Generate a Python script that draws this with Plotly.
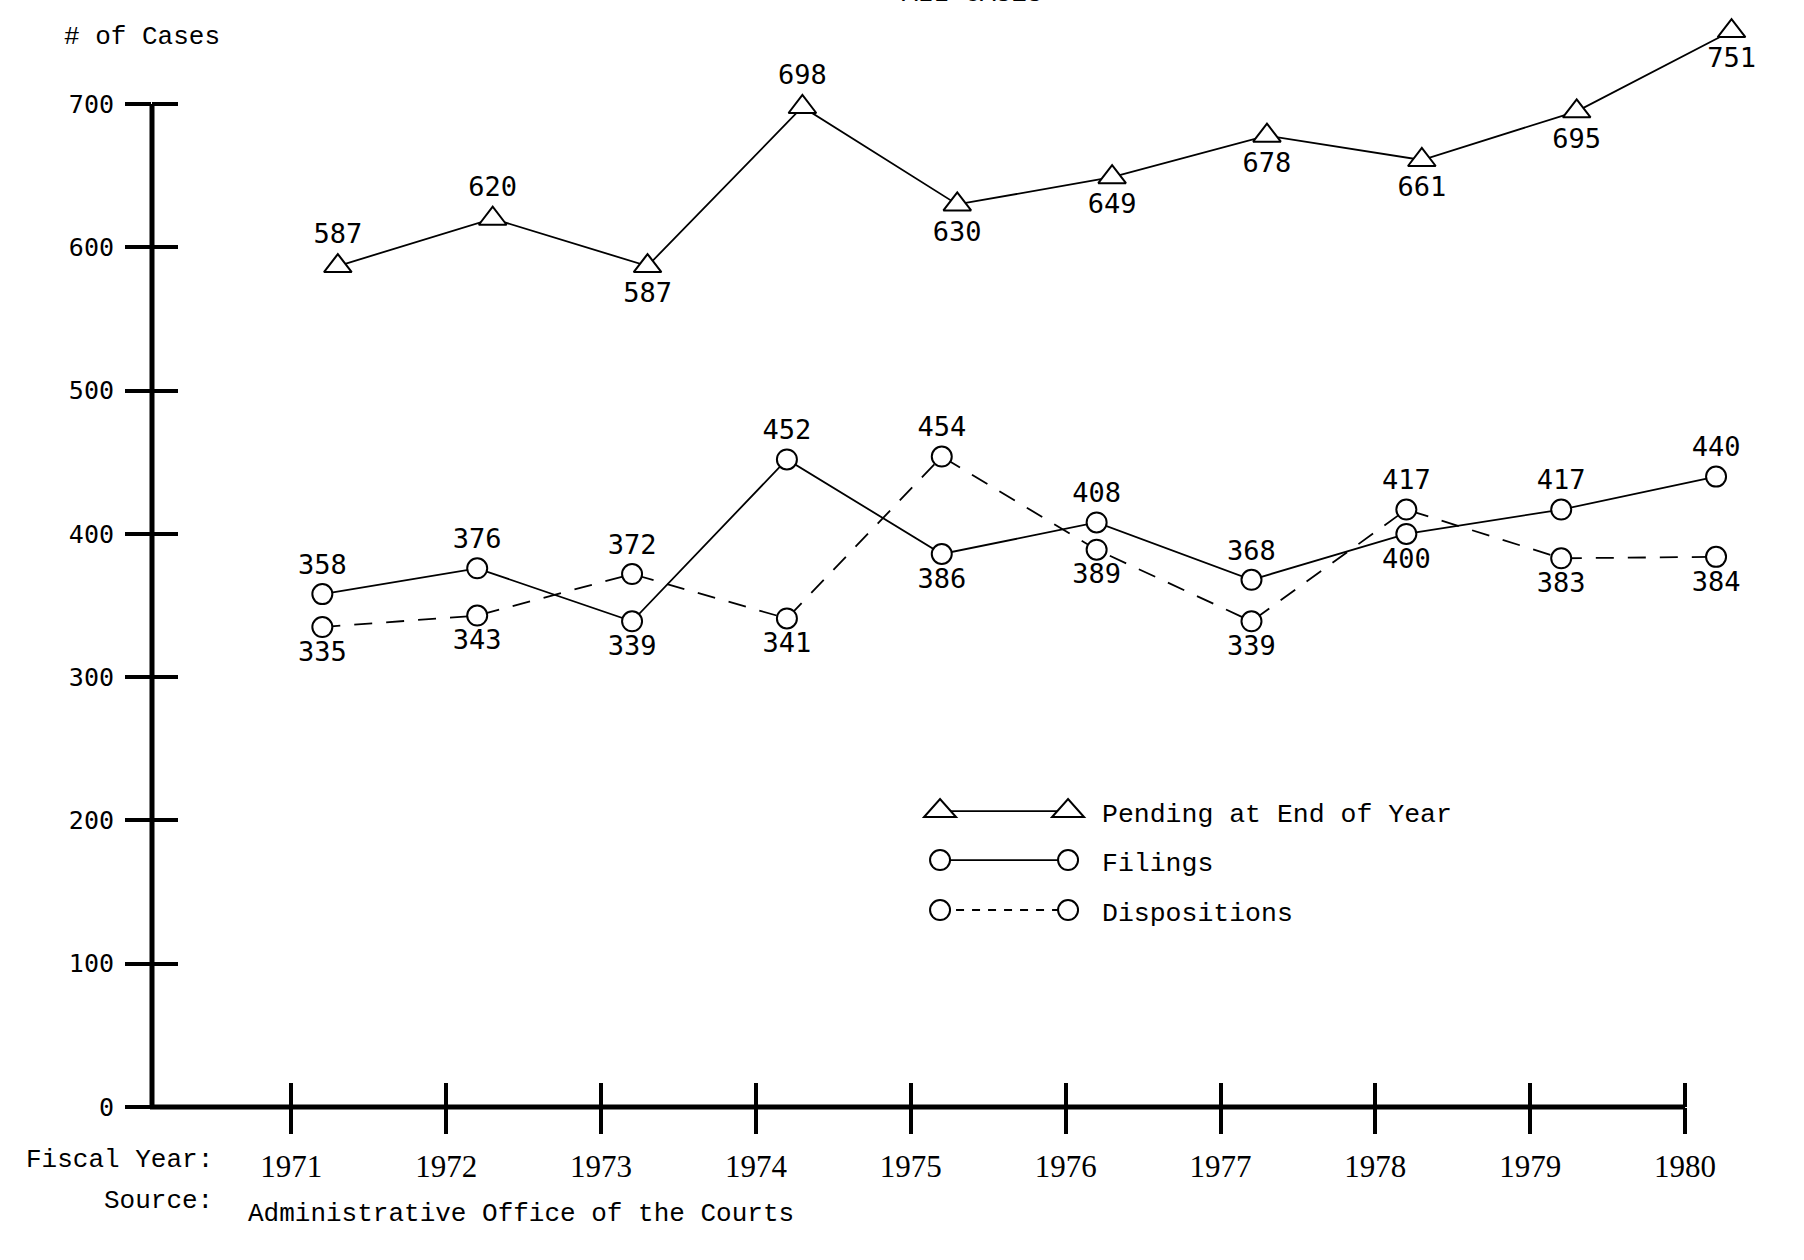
import plotly.graph_objects as go

# ---------------- data ----------------
years = [1971, 1972, 1973, 1974, 1975, 1976, 1977, 1978, 1979, 1980]
pending = [587, 620, 587, 698, 630, 649, 678, 661, 695, 751]
filings = [358, 376, 339, 452, 386, 408, 368, 400, 417, 440]
dispositions = [335, 343, 372, 341, 454, 389, 339, 417, 383, 384]
y_ticks = [0, 100, 200, 300, 400, 500, 600, 700]

# label placement (style)
pending_pos = ["top center", "top center", "bottom center", "top center", "bottom center",
               "bottom center", "bottom center", "bottom center", "bottom center", "bottom center"]
filings_pos = ["top center", "top center", "bottom center", "top center", "bottom center",
               "top center", "top center", "bottom center", "top center", "top center"]
disp_pos = ["bottom center", "bottom center", "top center", "bottom center", "top center",
            "bottom center", "bottom center", "top center", "bottom center", "bottom center"]

# ---------------- layout geometry ----------------
W, H = 1804, 1260
L, B = 152, 1107            # pixel x of y axis, pixel y of zero line
TOP_TICK_PX = 104           # pixel y of the 700 tick (end of y axis line)
AXIS_END_PX = 1685          # pixel x of the 1980 tick (end of x axis line)
X0, X_AXIS_END, X1 = 1970.1, 1980.0, 1980.6
Y0, Y_AXIS_END, Y1 = 0, 700, 765
per_year = (AXIS_END_PX - L) / (X_AXIS_END - X0)
R = AXIS_END_PX + (X1 - X_AXIS_END) * per_year
per_val = (B - TOP_TICK_PX) / (Y_AXIS_END - Y0)
T = TOP_TICK_PX - (Y1 - Y_AXIS_END) * per_val
CIRCLE_OFF = 0.2
TRI_OFF = 0.3

MONO_TXT = "Liberation Mono, Courier New, monospace"
MONO_NUM = "DejaVu Sans Mono, monospace"
SERIF = "Liberation Serif, serif"
NUM_SIZE = 27
TXT_SIZE = 26


def px(x):
    return (x - L) / (R - L)


def py(y):
    return (B - y) / (B - T)


fig = go.Figure()

fig.add_trace(go.Scatter(
    x=[y + TRI_OFF for y in years], y=pending, mode="lines+markers+text",
    text=[str(v) for v in pending], textposition=pending_pos,
    line=dict(color="black", width=1.8),
    marker=dict(symbol="triangle-up", size=24, color="white", line=dict(color="black", width=2)),
    textfont=dict(family=MONO_NUM, size=NUM_SIZE, color="black"),
    cliponaxis=False, showlegend=False, name="Pending at End of Year"))

fig.add_trace(go.Scatter(
    x=[y + CIRCLE_OFF for y in years], y=dispositions, mode="lines+markers+text",
    text=[str(v) for v in dispositions], textposition=disp_pos,
    line=dict(color="black", width=1.8, dash="18px,14px"),
    marker=dict(symbol="circle", size=20, color="white", line=dict(color="black", width=2)),
    textfont=dict(family=MONO_NUM, size=NUM_SIZE, color="black"),
    cliponaxis=False, showlegend=False, name="Dispositions"))

fig.add_trace(go.Scatter(
    x=[y + CIRCLE_OFF for y in years], y=filings, mode="lines+markers+text",
    text=[str(v) for v in filings], textposition=filings_pos,
    line=dict(color="black", width=1.8),
    marker=dict(symbol="circle", size=20, color="white", line=dict(color="black", width=2)),
    textfont=dict(family=MONO_NUM, size=NUM_SIZE, color="black"),
    cliponaxis=False, showlegend=False, name="Filings"))

# dummy trace to activate overlay axes (inner tick halves)
fig.add_trace(go.Scatter(x=[], y=[], xaxis="x2", yaxis="y2", showlegend=False, hoverinfo="skip"))

x_range = [X0, X1]
y_range = [Y0, Y1]

fig.update_layout(
    width=W, height=H, autosize=False,
    margin=dict(l=L, r=W - R, t=T, b=H - B, pad=0),
    paper_bgcolor="white", plot_bgcolor="white",
    xaxis=dict(range=x_range, tickvals=years, ticktext=[str(y) for y in years],
               showgrid=False, zeroline=False, showline=False,
               ticks="outside", ticklen=26, tickwidth=4, tickcolor="black",
               tickfont=dict(family=SERIF, size=31, color="black"), ticklabelstandoff=6),
    yaxis=dict(range=y_range, tickvals=y_ticks, showgrid=False, zeroline=False,
               showline=False,
               ticks="outside", ticklen=26, tickwidth=4, tickcolor="black",
               tickfont=dict(family=MONO_NUM, size=25, color="black"), ticklabelstandoff=6),
    xaxis2=dict(range=x_range, overlaying="x", anchor="y2", tickvals=years, showticklabels=False,
                showgrid=False, zeroline=False, showline=False,
                ticks="inside", ticklen=24, tickwidth=4, tickcolor="black", side="bottom"),
    yaxis2=dict(range=y_range, overlaying="y", anchor="x2", tickvals=y_ticks[1:], showticklabels=False,
                showgrid=False, zeroline=False, showline=False,
                ticks="inside", ticklen=26, tickwidth=4, tickcolor="black", side="left"),
)

shapes = []
# axis lines ending at the last tick on each axis
shapes.append(dict(type="line", xref="paper", yref="paper", x0=px(L - 2), x1=px(AXIS_END_PX),
                   y0=py(B), y1=py(B), line=dict(color="black", width=5), layer="above"))
shapes.append(dict(type="line", xref="paper", yref="paper", x0=px(L), x1=px(L),
                   y0=py(B + 2), y1=py(TOP_TICK_PX), line=dict(color="black", width=5), layer="above"))

ann = []
ann.append(dict(text="ALL CASES", xref="paper", yref="paper", x=px(972), y=py(-6),
                xanchor="center", yanchor="middle", showarrow=False,
                font=dict(family=MONO_TXT, size=TXT_SIZE, color="black")))
ann.append(dict(text="# of Cases", xref="paper", yref="paper", x=px(62), y=py(37),
                xanchor="left", yanchor="middle", showarrow=False,
                font=dict(family=MONO_TXT, size=TXT_SIZE, color="black")))
ann.append(dict(text="Fiscal Year:", xref="paper", yref="paper", x=px(215), y=py(1160),
                xanchor="right", yanchor="middle", showarrow=False,
                font=dict(family=MONO_TXT, size=TXT_SIZE, color="black")))
ann.append(dict(text="Source:", xref="paper", yref="paper", x=px(215), y=py(1201),
                xanchor="right", yanchor="middle", showarrow=False,
                font=dict(family=MONO_TXT, size=TXT_SIZE, color="black")))
ann.append(dict(text="Administrative Office of the Courts", xref="paper", yref="paper",
                x=px(246), y=py(1214), xanchor="left", yanchor="middle", showarrow=False,
                font=dict(family=MONO_TXT, size=TXT_SIZE, color="black")))

# ---------------- manual legend ----------------
legend_rows = [("Pending at End of Year", "tri", "solid", 811),
               ("Filings", "circ", "solid", 860),
               ("Dispositions", "circ", "dash", 910)]
sx0, sx1, tx = 940, 1068, 1100
for label, sym, dash, yy in legend_rows:
    shapes.append(dict(type="line", xref="paper", yref="paper",
                       x0=px(sx0), x1=px(sx1), y0=py(yy), y1=py(yy),
                       line=dict(color="black", width=1.8, dash="8px,8px" if dash == "dash" else "solid"),
                       layer="above"))
    for cx in (sx0, sx1):
        if sym == "circ":
            r = 10
            shapes.append(dict(type="circle", xref="paper", yref="paper",
                               x0=px(cx - r), x1=px(cx + r), y0=py(yy + r), y1=py(yy - r),
                               line=dict(color="black", width=2), fillcolor="white", layer="above"))
        else:
            hw, hh = 16, 10
            path = "M {} {} L {} {} L {} {} Z".format(px(cx - hw), py(yy + hh * 0.6),
                                                     px(cx + hw), py(yy + hh * 0.6),
                                                     px(cx), py(yy - hh * 1.2))
            shapes.append(dict(type="path", xref="paper", yref="paper", path=path,
                               line=dict(color="black", width=2), fillcolor="white", layer="above"))
    ann.append(dict(text=label, xref="paper", yref="paper", x=px(tx), y=py(yy + 4),
                    xanchor="left", yanchor="middle", showarrow=False,
                    font=dict(family=MONO_TXT, size=TXT_SIZE + 0.5, color="black")))

fig.update_layout(annotations=ann, shapes=shapes)

fig.write_html("out.html", config={"displayModeBar": False},
               post_script="document.body.style.margin='0';")
